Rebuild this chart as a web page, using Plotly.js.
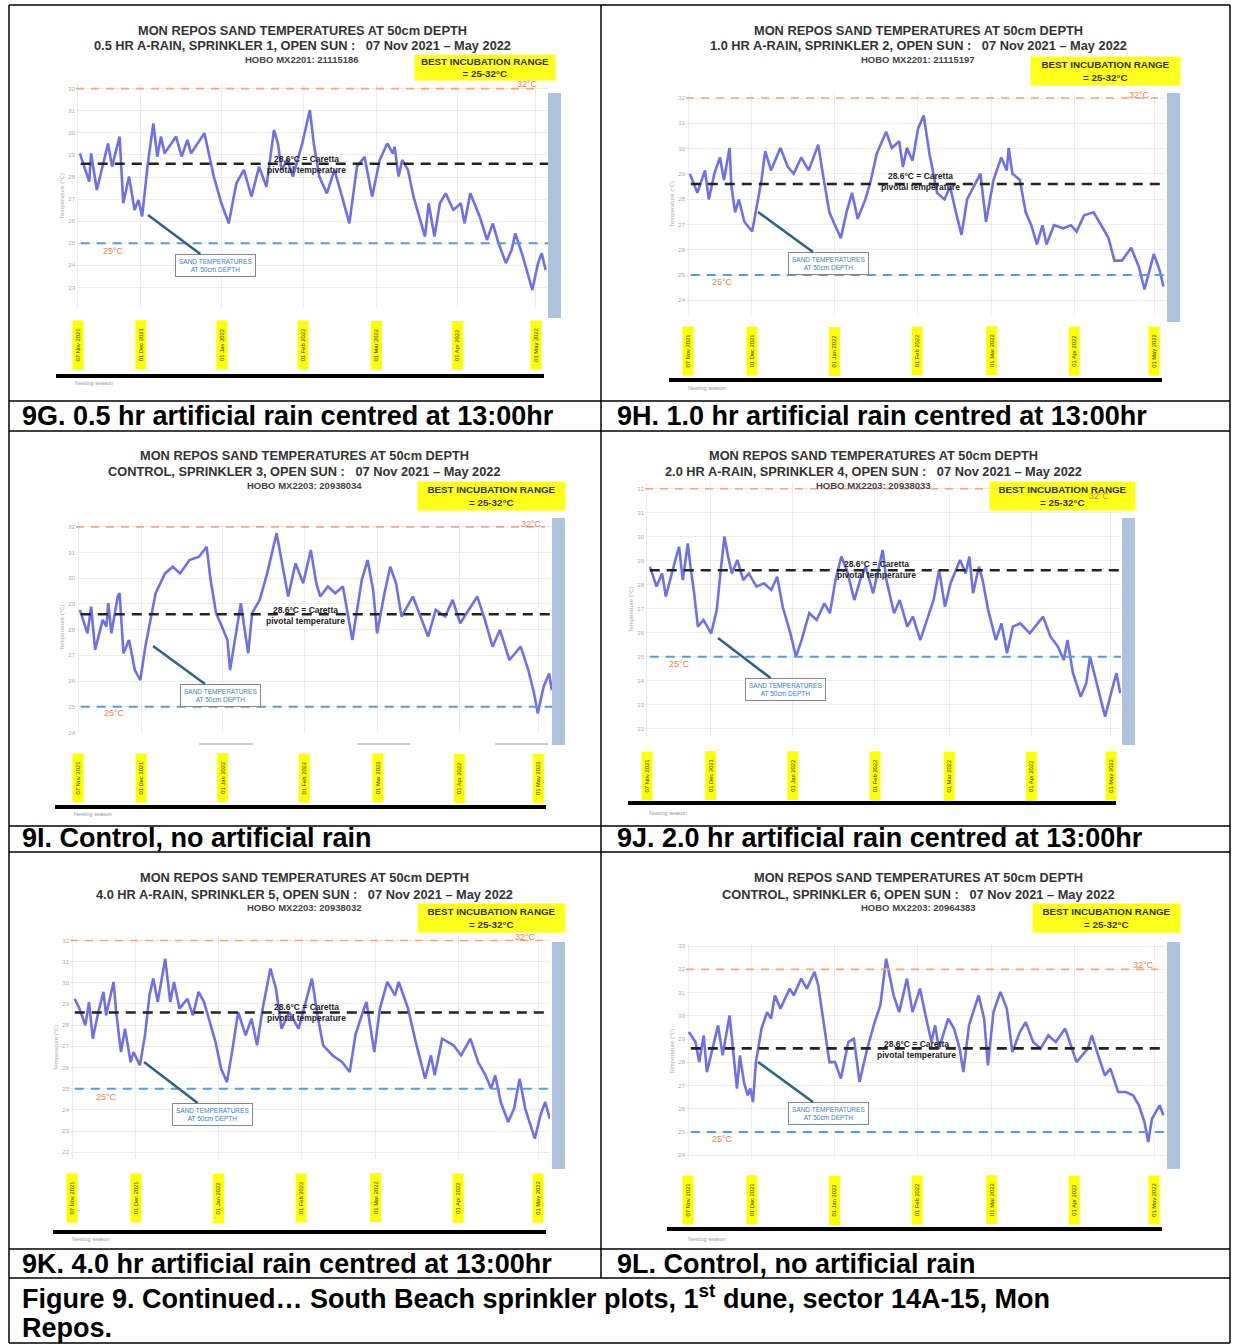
<!DOCTYPE html>
<html><head><meta charset="utf-8">
<script src="https://cdn.plot.ly/plotly-3.0.1.min.js"></script>
<style>html,body{margin:0;padding:0;background:#fff}#chart{width:1234px;height:1344px}</style>
</head><body><div id="chart"></div>
<script>
// ---------------- DATA ----------------
// x values: days since 07 Nov 2021 ; y values: sand temperature at 50cm (°C)
const tickDays = [0, 24, 55, 86, 114, 145, 175];
const tickLabels = ['07 Nov 2021', '01 Dec 2021', '01 Jan 2022', '01 Feb 2022', '01 Mar 2022', '01 Apr 2022', '01 May 2022'];
const upperLimit = 32;      // best incubation range upper
const lowerLimit = 25;      // best incubation range lower
const pivotalTemp = 28.6;   // Caretta pivotal temperature

const dayG = [0.7,4.3,5.0,7.2,11.5,13.0,15.9,16.6,17.3,19.5,21.6,23.1,24.5,26.7,28.8,30.3,31.7,33.1,37.5,39.6,41.8,43.2,48.3,49.7,51.9,54.8,57.6,60.5,63.4,66.3,69.2,72.0,74.9,76.4,77.8,80.0,82.1,85.7,88.6,90.1,92.2,95.1,98.0,100.9,103.7,106.6,109.5,112.4,115.3,118.2,120.3,121.0,122.5,123.9,126.1,128.2,129.7,132.6,134.0,136.2,138.3,140.5,143.4,146.3,147.7,149.9,153.5,156.3,158.5,160.7,163.5,165.7,167.1,170.0,173.6,175.8,177.2,178.7];
const tempG = [29.07,27.79,29.07,27.41,29.52,28.47,29.83,28.17,26.81,28.02,26.51,26.96,26.21,28.62,30.43,28.92,29.83,29.07,29.83,28.92,29.68,29.07,29.98,29.22,28.02,26.81,25.90,27.71,28.32,27.11,28.47,27.56,30.13,29.52,28.32,28.77,28.02,29.52,31.03,29.52,28.02,27.26,28.32,27.11,25.90,28.47,28.92,27.11,28.77,29.52,29.07,29.37,28.02,28.77,28.32,27.11,26.51,25.30,26.81,25.30,26.81,27.26,26.51,26.81,25.90,27.26,26.21,25.15,25.90,25.00,24.10,24.70,25.45,24.40,22.89,24.10,24.55,23.79];

const dayH = [0.7,3.5,6.4,7.8,9.9,12.0,13.5,15.6,16.3,17.7,19.1,21.2,24.1,25.5,27.6,29.0,31.2,34.7,37.5,39.7,42.5,45.3,48.9,51.0,53.1,55.2,57.4,59.5,61.6,63.7,66.6,68.7,70.8,74.4,76.5,79.3,80.7,82.2,84.3,86.4,88.5,90.7,93.5,96.3,98.4,100.6,102.7,104.8,108.4,109.8,111.9,114.7,117.6,119.7,120.4,121.8,124.6,126.8,128.9,131.0,133.1,134.6,137.4,140.9,143.8,145.9,148.7,152.3,155.8,157.9,160.1,162.9,166.4,169.3,171.4,173.5,174.9,177.1,178.5];
const tempH = [29.01,28.25,29.14,27.99,29.01,29.65,28.76,30.03,28.50,27.48,27.99,27.10,26.72,27.48,28.76,29.90,29.14,30.03,29.27,29.01,29.65,29.14,30.16,28.76,27.48,26.97,26.46,27.48,28.25,27.23,27.99,28.76,29.78,30.67,30.03,30.29,29.27,30.03,29.52,30.80,31.31,29.78,28.25,27.99,28.50,27.48,26.59,27.99,28.76,29.01,27.10,28.76,29.65,29.14,30.03,29.01,28.76,27.48,26.97,26.21,26.97,26.21,26.97,26.85,26.97,26.72,27.36,27.48,26.85,26.46,25.57,25.57,26.08,25.32,24.43,25.32,25.83,25.19,24.55];

const dayI = [0.7,3.6,5.0,6.5,9.4,10.8,11.5,12.7,15.1,15.8,17.3,19.4,21.6,23.7,25.6,27.1,29.5,33.1,36.0,38.8,42.4,46.0,48.9,50.4,52.5,54.7,56.8,57.8,60.4,61.9,64.7,66.2,69.1,71.9,75.5,77.7,79.9,82.7,85.6,88.5,90.6,92.1,95.0,97.8,100.7,104.3,107.9,110.1,112.2,113.7,116.5,118.7,120.9,123.0,127.3,130.2,133.1,136.0,139.6,142.4,145.3,151.8,154.7,157.6,160.4,164.0,168.3,171.2,173.4,174.8,177.0,179.1,180.1];
const tempI = [28.77,27.86,28.90,27.21,28.38,28.12,29.03,27.86,29.29,29.42,27.08,27.60,26.43,26.04,27.34,28.12,29.42,30.19,30.45,30.19,30.71,30.84,31.23,29.94,28.64,28.12,27.60,26.43,28.12,29.03,27.08,28.64,29.16,30.19,31.75,30.45,29.29,30.58,29.81,31.10,29.81,29.29,29.68,29.42,29.68,27.60,29.94,30.71,29.55,27.86,29.42,30.45,29.81,28.51,29.29,28.51,27.73,28.77,28.51,29.16,28.25,29.29,28.38,27.34,27.99,26.82,27.34,26.43,25.52,24.74,25.78,26.30,25.65];

const dayJ = [1.1,3.6,5.7,7.1,10.7,12.1,13.5,15.4,16.4,17.8,19.2,21.3,24.2,26.3,27.7,29.2,30.6,32.0,34.1,36.3,38.4,41.3,44.1,46.9,49.1,51.2,54.1,56.2,58.3,61.2,64.0,66.9,69.0,71.1,73.3,75.4,78.2,80.4,82.5,85.3,88.9,90.3,93.2,95.3,98.2,100.3,103.1,105.3,108.1,110.2,112.4,114.5,118.1,120.2,121.6,123.0,125.2,126.6,128.7,131.6,133.7,135.8,138.0,140.8,144.4,149.4,152.2,155.0,157.2,158.6,160.7,163.6,165.7,167.1,169.3,171.4,172.8,175.7,177.1,178.5];
const tempJ = [28.75,27.92,28.47,27.50,29.03,29.58,28.19,29.72,28.75,27.64,26.25,26.53,25.97,26.94,28.47,30.00,29.17,28.47,29.03,28.19,28.47,27.92,28.06,27.78,28.33,27.08,25.97,25.00,25.69,26.81,26.53,27.22,26.81,28.19,29.17,28.61,27.36,28.19,28.75,27.64,29.44,28.19,26.81,27.36,26.25,26.67,25.69,26.39,27.36,28.61,27.08,28.06,29.03,28.47,29.17,27.64,28.75,28.19,26.94,25.69,26.39,25.14,26.25,26.39,25.97,26.67,25.83,25.42,24.86,25.69,24.31,23.33,23.89,25.00,24.03,23.19,22.50,23.75,24.31,23.47];

const dayK = [1.0,2.8,5.0,6.4,7.8,9.9,11.8,12.8,15.6,16.6,18.4,19.9,22.0,23.1,25.5,27.4,29.1,30.5,32.2,35.0,36.9,38.3,40.4,43.3,45.4,47.5,49.6,51.1,53.9,56.0,58.2,60.3,62.4,65.2,67.4,69.5,71.6,74.5,76.6,78.7,81.6,85.1,87.9,90.1,92.2,94.3,97.9,101.4,104.3,106.4,109.2,110.6,113.5,115.6,118.4,121.3,122.7,126.2,129.1,132.6,134.8,136.2,139.0,143.3,146.1,149.6,152.5,155.3,157.4,158.9,161.0,163.8,166.0,168.1,170.2,173.8,175.9,177.7,179.4];
const tempK = [29.25,28.78,27.99,29.09,27.36,28.62,29.57,28.46,30.04,28.62,26.73,27.83,26.26,26.73,26.10,27.52,29.41,30.20,29.09,31.14,29.09,30.04,28.78,29.25,28.46,29.57,29.09,28.46,27.20,25.94,25.31,26.89,28.62,27.52,28.31,27.05,28.78,30.67,29.72,27.83,28.62,27.83,29.09,30.20,28.46,27.05,26.57,26.26,25.79,27.52,28.62,29.09,26.73,28.78,30.04,29.41,30.04,28.78,27.20,25.47,26.57,25.63,27.36,27.05,26.57,27.36,26.26,25.63,25.00,25.63,24.37,23.43,24.06,25.47,24.06,22.64,23.74,24.37,23.58];

const dayL = [0.3,2.8,4.2,5.9,7.1,9.2,11.3,13.0,15.6,17.0,18.4,19.5,21.0,22.4,23.4,24.4,25.5,27.6,29.7,31.2,32.6,34.7,38.2,39.7,42.5,44.6,47.5,48.9,51.0,53.1,55.2,57.4,60.2,62.3,64.4,67.3,70.1,72.2,74.4,77.2,79.3,82.2,84.3,87.1,89.2,91.4,92.8,94.2,97.7,99.9,102.0,103.4,105.5,109.1,111.2,112.6,114.7,117.3,119.7,121.8,124.6,126.8,129.6,132.4,135.3,138.1,141.6,145.9,150.1,151.6,154.4,156.5,158.6,161.5,164.3,167.1,169.3,171.4,172.8,174.2,177.1,178.5];
const tempL = [29.30,28.87,28.01,29.16,27.58,28.59,29.59,28.30,30.02,28.44,26.87,28.30,27.15,26.58,26.87,26.29,28.01,29.45,30.16,29.88,30.88,30.31,31.17,30.88,31.60,31.17,31.89,31.31,29.73,28.01,28.01,27.30,28.87,29.02,27.15,28.59,29.73,30.45,32.46,30.88,30.16,31.60,30.16,31.17,30.02,28.87,29.59,28.59,29.88,29.45,28.59,27.58,29.59,30.88,29.88,27.87,30.16,31.03,30.31,28.44,29.30,29.73,28.87,28.59,29.16,28.87,29.45,28.01,28.59,29.16,28.16,27.44,27.73,26.72,26.72,26.58,26.15,25.43,24.57,25.57,26.15,25.72];

const mainTitle = 'MON REPOS SAND TEMPERATURES AT 50cm DEPTH';
const subtitles = [
  '0.5 HR A-RAIN, SPRINKLER 1, OPEN SUN :   07 Nov 2021 – May 2022',
  '1.0 HR A-RAIN, SPRINKLER 2, OPEN SUN :   07 Nov 2021 – May 2022',
  'CONTROL, SPRINKLER 3, OPEN SUN :   07 Nov 2021 – May 2022',
  '2.0 HR A-RAIN, SPRINKLER 4, OPEN SUN :   07 Nov 2021 – May 2022',
  '4.0 HR A-RAIN, SPRINKLER 5, OPEN SUN :   07 Nov 2021 – May 2022',
  'CONTROL, SPRINKLER 6, OPEN SUN :   07 Nov 2021 – May 2022'];
const loggers = ['HOBO MX2201: 21115186','HOBO MX2201: 21115197','HOBO MX2203: 20938034','HOBO MX2203: 20938033','HOBO MX2203: 20938032','HOBO MX2203: 20964383'];
const captions = [
  '9G. 0.5 hr artificial rain centred at 13:00hr',
  '9H. 1.0 hr artificial rain centred at 13:00hr',
  '9I. Control, no artificial rain',
  '9J. 2.0 hr artificial rain centred at 13:00hr',
  '9K. 4.0 hr artificial rain centred at 13:00hr',
  '9L. Control, no artificial rain'];
const figureCaption1 = 'Figure 9. Continued… South Beach sprinkler plots, 1<sup>st</sup> dune, sector 14A-15, Mon';
const figureCaption2 = 'Repos.';

// ---------------- LAYOUT GEOMETRY (pixels) ----------------
const W = 1234, H = 1344;
const px = v => v / W;
const py = v => 1 - v / H;

const panels = [
 {days:dayG,temps:tempG, dom:[76,548,84,308], xr:[-0.76,179.6], yr:[22.07,32.21], bar:[548,561,93,318], tx:302, ty:[30,45,59],
  yel:[415,555,55,80], l32:[527,84], piv:[306,164], l25:[113,251], sand:[215,265], head:[148,215], dateY:345, thick:[56,544,376], nest:[73,383], cap:[20,416]},
 {days:dayH,temps:tempH, dom:[686,1165,93,315], xr:[-0.75,179.1], yr:[23.42,32.2], bar:[1167,1180,93,322], tx:918, ty:[30,45,59],
  yel:[1031,1180,57,85], l32:[1139,95], piv:[920,181], l25:[722,282], sand:[828,263], head:[758,212], dateY:351, thick:[669,1162,380], nest:[686,388], cap:[615,416]},
 {days:dayI,temps:tempI, dom:[76,552,522,733], xr:[-0.76,180.2], yr:[23.98,32.19], bar:[552,565,518,745], tx:304, ty:[455,471,485],
  yel:[418,565,482,510], l32:[531,524], piv:[305,615], l25:[114,713], sand:[220,695], head:[153,646], dateY:778, thick:[55,546,807], nest:[72,814], cap:[20,838]},
 {days:dayJ,temps:tempJ, dom:[645,1121,482,737], xr:[-0.75,178.8], yr:[21.65,32.28], bar:[1122,1135,518,745], tx:873, ty:[455,471,485],
  yel:[990,1135,482,510], l32:[1099,496], piv:[876,569], l25:[679,664], sand:[785,689], head:[718,638], dateY:776, thick:[628,1116,803], nest:[647,813], cap:[615,838]},
 {days:dayK,temps:tempK, dom:[70,550,936,1159], xr:[-0.75,179.5], yr:[21.68,32.21], bar:[552,565,942,1169], tx:304, ty:[877,894,907],
  yel:[418,565,904,932], l32:[525,937], piv:[306,1012], l25:[106,1097], sand:[212,1114], head:[144,1062], dateY:1198, thick:[53,546,1232], nest:[70,1239], cap:[20,1264]},
 {days:dayL,temps:tempL, dom:[686,1165,944,1159], xr:[-0.75,179.1], yr:[23.84,33.09], bar:[1167,1180,942,1169], tx:918, ty:[877,894,907],
  yel:[1033,1180,904,932], l32:[1143,965], piv:[916,1049], l25:[722,1139], sand:[828,1113], head:[758,1062], dateY:1200, thick:[667,1162,1229], nest:[686,1239], cap:[615,1264]}
];

const FONT = 'Liberation Sans, Arial, sans-serif';
const traces = [], shapes = [], annotations = [];
const layout = {width:W, height:H, margin:{l:0,r:0,t:0,b:0}, paper_bgcolor:'#ffffff', plot_bgcolor:'rgba(0,0,0,0)',
  showlegend:false, font:{family:FONT, color:'#333'}, hovermode:false};

function ann(o){ annotations.push(Object.assign({xref:'paper', yref:'paper', showarrow:false, xanchor:'center', yanchor:'middle'}, o)); }

panels.forEach((p, i) => {
  const n = i + 1, sfx = n === 1 ? '' : String(n);
  const xr = 'x' + sfx, yr = 'y' + sfx;
  layout['xaxis' + sfx] = {domain:[px(p.dom[0]), px(p.dom[1])], range:p.xr, anchor:yr, tickvals:tickDays, showticklabels:false,
    ticks:'', showgrid:true, gridcolor:'#ececec', gridwidth:1, zeroline:false, showline:false, fixedrange:true};
  layout['yaxis' + sfx] = {domain:[py(p.dom[3]), py(p.dom[2])], range:p.yr, anchor:xr, dtick:1, tick0:0, ticks:'',
    showgrid:true, gridcolor:'#ebebeb', zeroline:false, showline:false, tickfont:{size:6, color:'#aaa'},
    title:{text:'Temperature (°C)', font:{size:6, color:'#aaa'}, standoff:3}, fixedrange:true};

  traces.push({type:'scatter', mode:'lines', x:p.days, y:p.temps, xaxis:xr, yaxis:yr,
    line:{color:'#7070e6', width:2.6, shape:'linear'}, hoverinfo:'skip'});

  // reference lines
  shapes.push({type:'line', xref:xr+' domain', yref:yr, x0:0, x1:0.985, y0:upperLimit, y1:upperLimit, line:{color:'#f3a57c', width:1.6, dash:'8px,7px'}});
  shapes.push({type:'line', xref:xr+' domain', yref:yr, x0:0.01, x1:1, y0:pivotalTemp, y1:pivotalTemp, line:{color:'#222', width:2.6, dash:'10px,7px'}});
  shapes.push({type:'line', xref:xr+' domain', yref:yr, x0:0.01, x1:1, y0:lowerLimit, y1:lowerLimit, line:{color:'#5b9bd5', width:2, dash:'9px,7px'}});

  // light blue bar at right
  shapes.push({type:'rect', xref:'paper', yref:'paper', x0:px(p.bar[0]), x1:px(p.bar[1]), y0:py(p.bar[3]), y1:py(p.bar[2]),
    fillcolor:'#adc2dd', line:{width:0}});
  // thick black season line
  shapes.push({type:'line', xref:'paper', yref:'paper', x0:px(p.thick[0]), x1:px(p.thick[1]), y0:py(p.thick[2]), y1:py(p.thick[2]),
    line:{color:'#000', width:4}});

  // titles
  ann({x:px(p.tx), y:py(p.ty[0]), text:'<b>' + mainTitle + '</b>', font:{size:12.8, color:'#333'}});
  ann({x:px(p.tx), y:py(p.ty[1]), text:'<b>' + subtitles[i] + '</b>', font:{size:12.8, color:'#333'}});
  ann({x:px(p.tx), y:py(p.ty[2]), text:'<b>' + loggers[i] + '</b>', font:{size:9.5, color:'#444'}});
  // yellow box
  ann({x:px((p.yel[0]+p.yel[1])/2), y:py((p.yel[2]+p.yel[3])/2), text:'<b>BEST INCUBATION RANGE</b><br><b>= 25-32°C</b>',
    font:{size:9.8, color:'#333'}, bgcolor:'rgba(255,255,0,0.9)', width:p.yel[1]-p.yel[0], height:p.yel[3]-p.yel[2], borderpad:0});
  // labels
  ann({x:px(p.l32[0]), y:py(p.l32[1]), text:'32°C', font:{size:9, color:'#e8843f'}});
  ann({x:px(p.l25[0]), y:py(p.l25[1]), text:'25°C', font:{size:9, color:'#e8843f'}});
  ann({x:px(p.piv[0]), y:py(p.piv[1]), text:'<b>28.6°C = Caretta</b><br><b>pivotal temperature</b>', font:{size:8.5, color:'#222'}});
  // sand temperature box with arrow pointing to the line
  ann({x:px(p.head[0]), y:py(p.head[1]), text:'SAND TEMPERATURES<br>AT 50cm DEPTH', font:{size:6.5, color:'#3c7cc4'},
    bordercolor:'#888', borderwidth:1, borderpad:3, bgcolor:'#fff', showarrow:true, arrowhead:0, arrowwidth:2.6, arrowcolor:'#2f6483',
    ax:p.sand[0]-p.head[0], ay:p.sand[1]-p.head[1], axref:'pixel', ayref:'pixel'});
  // date labels (yellow)
  tickDays.forEach((d, k) => {
    annotations.push({xref:xr, yref:'paper', x:d, y:py(p.dateY), text:tickLabels[k], textangle:-90, showarrow:false,
      font:{size:5.8, color:'#333'}, bgcolor:'#ffff00', width:46, height:8, borderpad:1, xanchor:'center', yanchor:'middle'});
  });
  ann({x:px(p.nest[0]), y:py(p.nest[1]), text:'Nesting season', xanchor:'left', font:{size:5.5, color:'#999'}});
  // caption
  ann({x:px(p.cap[0]), y:py(p.cap[1]), text:'<b>' + captions[i] + '</b>', xanchor:'left', font:{size:27, color:'#000'}});
});

// faint short lines under panel 9I
[[199,253],[357,410],[495,548]].forEach(s => shapes.push({type:'line', xref:'paper', yref:'paper', x0:px(s[0]), x1:px(s[1]), y0:py(744), y1:py(744), line:{color:'#bbb', width:1.5}}));

// figure caption (two lines)
ann({x:px(20), y:py(1297), text:'<b>' + figureCaption1 + '</b>', xanchor:'left', align:'left', font:{size:27, color:'#000'}});
ann({x:px(20), y:py(1328), text:'<b>' + figureCaption2 + '</b>', xanchor:'left', align:'left', font:{size:27, color:'#000'}});

// table grid
const bl = {color:'#000', width:1.5};
function hl(y, x0, x1){ shapes.push({type:'line', xref:'paper', yref:'paper', x0:px(x0), x1:px(x1), y0:py(y), y1:py(y), line:bl}); }
function vl(x, y0, y1){ shapes.push({type:'line', xref:'paper', yref:'paper', x0:px(x), x1:px(x), y0:py(y0), y1:py(y1), line:bl}); }
hl(5, 9, 1230); hl(401, 9, 1230); hl(431, 9, 1230); hl(826, 9, 1230); hl(852, 9, 1230); hl(1249, 9, 1230); hl(1278, 9, 1230); hl(1343, 9, 1230);
vl(9, 5, 1343); vl(1230, 5, 1343); vl(601, 5, 1278);

layout.shapes = shapes;
layout.annotations = annotations;
Plotly.newPlot('chart', traces, layout, {staticPlot:true, displayModeBar:false});
</script></body></html>
